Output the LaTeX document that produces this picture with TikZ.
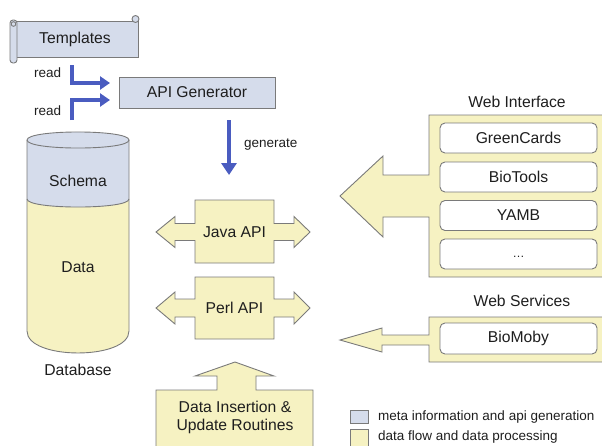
\documentclass[tikz,border=0pt]{standalone}
\usepackage{fontspec}
\setmainfont{Liberation Sans}
\usetikzlibrary{arrows.meta}
\definecolor{ylw}{HTML}{F6F2C2}
\definecolor{blu}{HTML}{D5DCEB}
\definecolor{edge}{HTML}{7A7A7A}
\definecolor{arr}{HTML}{4A5CC0}
\definecolor{txt}{HTML}{1E1E1E}
\begin{document}
\begin{tikzpicture}[x=1pt,y=-1pt,
  shapeY/.style={fill=ylw, draw=edge, line width=0.9pt, line join=miter},
  shapeB/.style={fill=blu, draw=edge, line width=0.9pt},
  lbl/.style={font=\fontsize{15.7}{18}\selectfont, text=txt, inner sep=0pt},
  small/.style={font=\fontsize{13.5}{16}\selectfont, text=txt, inner sep=0pt},
  inbox/.style={fill=white, draw=edge, line width=0.9pt, rounded corners=5pt, minimum width=157pt, minimum height=30pt, inner sep=0pt, font=\fontsize{15.7}{18}\selectfont, text=txt},
  bluearr/.style={draw=arr, line width=3.8pt, -{Triangle[length=10pt,width=13pt]}},
  genarr/.style={draw=arr, line width=3.8pt, -{Triangle[length=12pt,width=15pt]}}]
\useasboundingbox (0,0) rectangle (602,445);
\clip (0,0) rectangle (602,445);

% ---------- Templates scroll ----------
\draw[shapeB] (15,21) rectangle (138,57);
\draw[shapeB, rounded corners=3pt] (10,20) rectangle (17,63);
\draw[shapeB] (13.5,24) circle (2.3pt);
\draw[shapeB] (135.5,19) circle (3.5pt);
\node[lbl] (tpl) at (75,39) {Templates};

% ---------- API Generator ----------
\node[shapeB, minimum width=156pt, minimum height=31pt, inner sep=0pt] (apigen) at (197,92.5) {};
\node[lbl] (apigentext) at (apigen.center) {API Generator};

% ---------- read arrows ----------
\node[small, anchor=west] (read1) at (34,73) {read};
\node[small, anchor=west] (read2) at (34,111) {read};
\coordinate (r1s) at (72,65);
\coordinate (r1c) at (72,83);
\coordinate (r1e) at (110,83);
\coordinate (r2s) at (72,120);
\coordinate (r2c) at (72,100);
\coordinate (r2e) at (110,100);
\draw[bluearr] (r1s) -- (r1c) -- (r1e);
\draw[bluearr] (r2s) -- (r2c) -- (r2e);

% ---------- generate arrow ----------
\coordinate (gs) at (229,120);
\coordinate (ge) at (229,175);
\draw[genarr] (gs) -- (ge);
\node[small, anchor=west] (gen) at (244,145) {generate};

% ---------- Database cylinder ----------
\fill[ylw] (27,199) .. controls (27,209.7) and (129,209.7) .. (129,199)
  -- (129,331) .. controls (129,360.3) and (27,360.3) .. (27,331) -- cycle;
\fill[blu] (27,140) .. controls (27,129.3) and (129,129.3) .. (129,140)
  -- (129,199) .. controls (129,209.7) and (27,209.7) .. (27,199) -- cycle;
\draw[edge, line width=0.9pt] (27,140) .. controls (27,150.7) and (129,150.7) .. (129,140)
  .. controls (129,129.3) and (27,129.3) .. (27,140);
\draw[edge, line width=0.9pt] (27,199) .. controls (27,209.7) and (129,209.7) .. (129,199);
\draw[edge, line width=0.9pt] (27,140) -- (27,331) .. controls (27,360.3) and (129,360.3) .. (129,331) -- (129,140);
\node[lbl] (schema) at (78,181) {Schema};
\node[lbl] (data) at (78,267) {Data};
\node[lbl] (database) at (78,370) {Database};

% ---------- Java API ----------
\draw[shapeY] (195,200) -- (274,200) -- (274,223.5) -- (294,223.5) -- (294,216.5) -- (310,232)
  -- (294,247.5) -- (294,240.5) -- (274,240.5) -- (274,263) -- (195,263) -- (195,240.5)
  -- (175,240.5) -- (175,247.5) -- (156,232) -- (175,216.5) -- (175,223.5) -- (195,223.5) -- cycle;
\node[lbl] (java) at (234.5,232) {Java API};

% ---------- Perl API ----------
\draw[shapeY] (195,277) -- (274,277) -- (274,299) -- (294,299) -- (294,292) -- (310,308)
  -- (294,324) -- (294,317) -- (274,317) -- (274,339) -- (195,339) -- (195,317)
  -- (175,317) -- (175,324) -- (156,308) -- (175,292) -- (175,299) -- (195,299) -- cycle;
\node[lbl] (perl) at (234.5,308) {Perl API};

% ---------- Data insertion ----------
\draw[shapeY] (156,390) -- (217,390) -- (217,376) -- (195,376) -- (235,362) -- (274,376)
  -- (256,376) -- (256,390) -- (313,390) -- (313,450) -- (156,450) -- cycle;
\node[lbl, align=center] (ins) at (235,417) {Data Insertion \&\\Update Routines};

% ---------- Web Interface ----------
\draw[shapeY] (429,115) -- (605,115) -- (605,277) -- (429,277) -- (429,217) -- (383,217)
  -- (383,237) -- (340,196) -- (383,156) -- (383,175) -- (429,175) -- cycle;
\node[lbl] (webif) at (517,102) {Web Interface};
\node[inbox] (green) at (518.5,138) {GreenCards};
\node[inbox] (biotools) at (518.5,177) {BioTools};
\node[inbox] (yamb) at (518.5,215.5) {YAMB};
\node[inbox] (dots) at (518.5,254) {\raisebox{-6pt}{\fontsize{12}{14}\selectfont\dots}};

% ---------- Web Services ----------
\draw[shapeY] (429,317) -- (605,317) -- (605,362) -- (429,362) -- (429,345) -- (382,345)
  -- (382,352) -- (340,340) -- (382,328) -- (382,335) -- (429,335) -- cycle;
\node[lbl] (websv) at (522,301) {Web Services};
\node[inbox, minimum height=31pt] (biomoby) at (518.5,338.5) {BioMoby};

% ---------- Legend ----------
\draw[shapeB] (350,410) rectangle (368,423);
\draw[shapeY] (350,429) rectangle (368,448);
\node[small, anchor=west] (leg1) at (378,417) {meta information and api generation};
\node[small, anchor=west] (leg2) at (378,437) {data flow and data processing};
\end{tikzpicture}
\end{document}
